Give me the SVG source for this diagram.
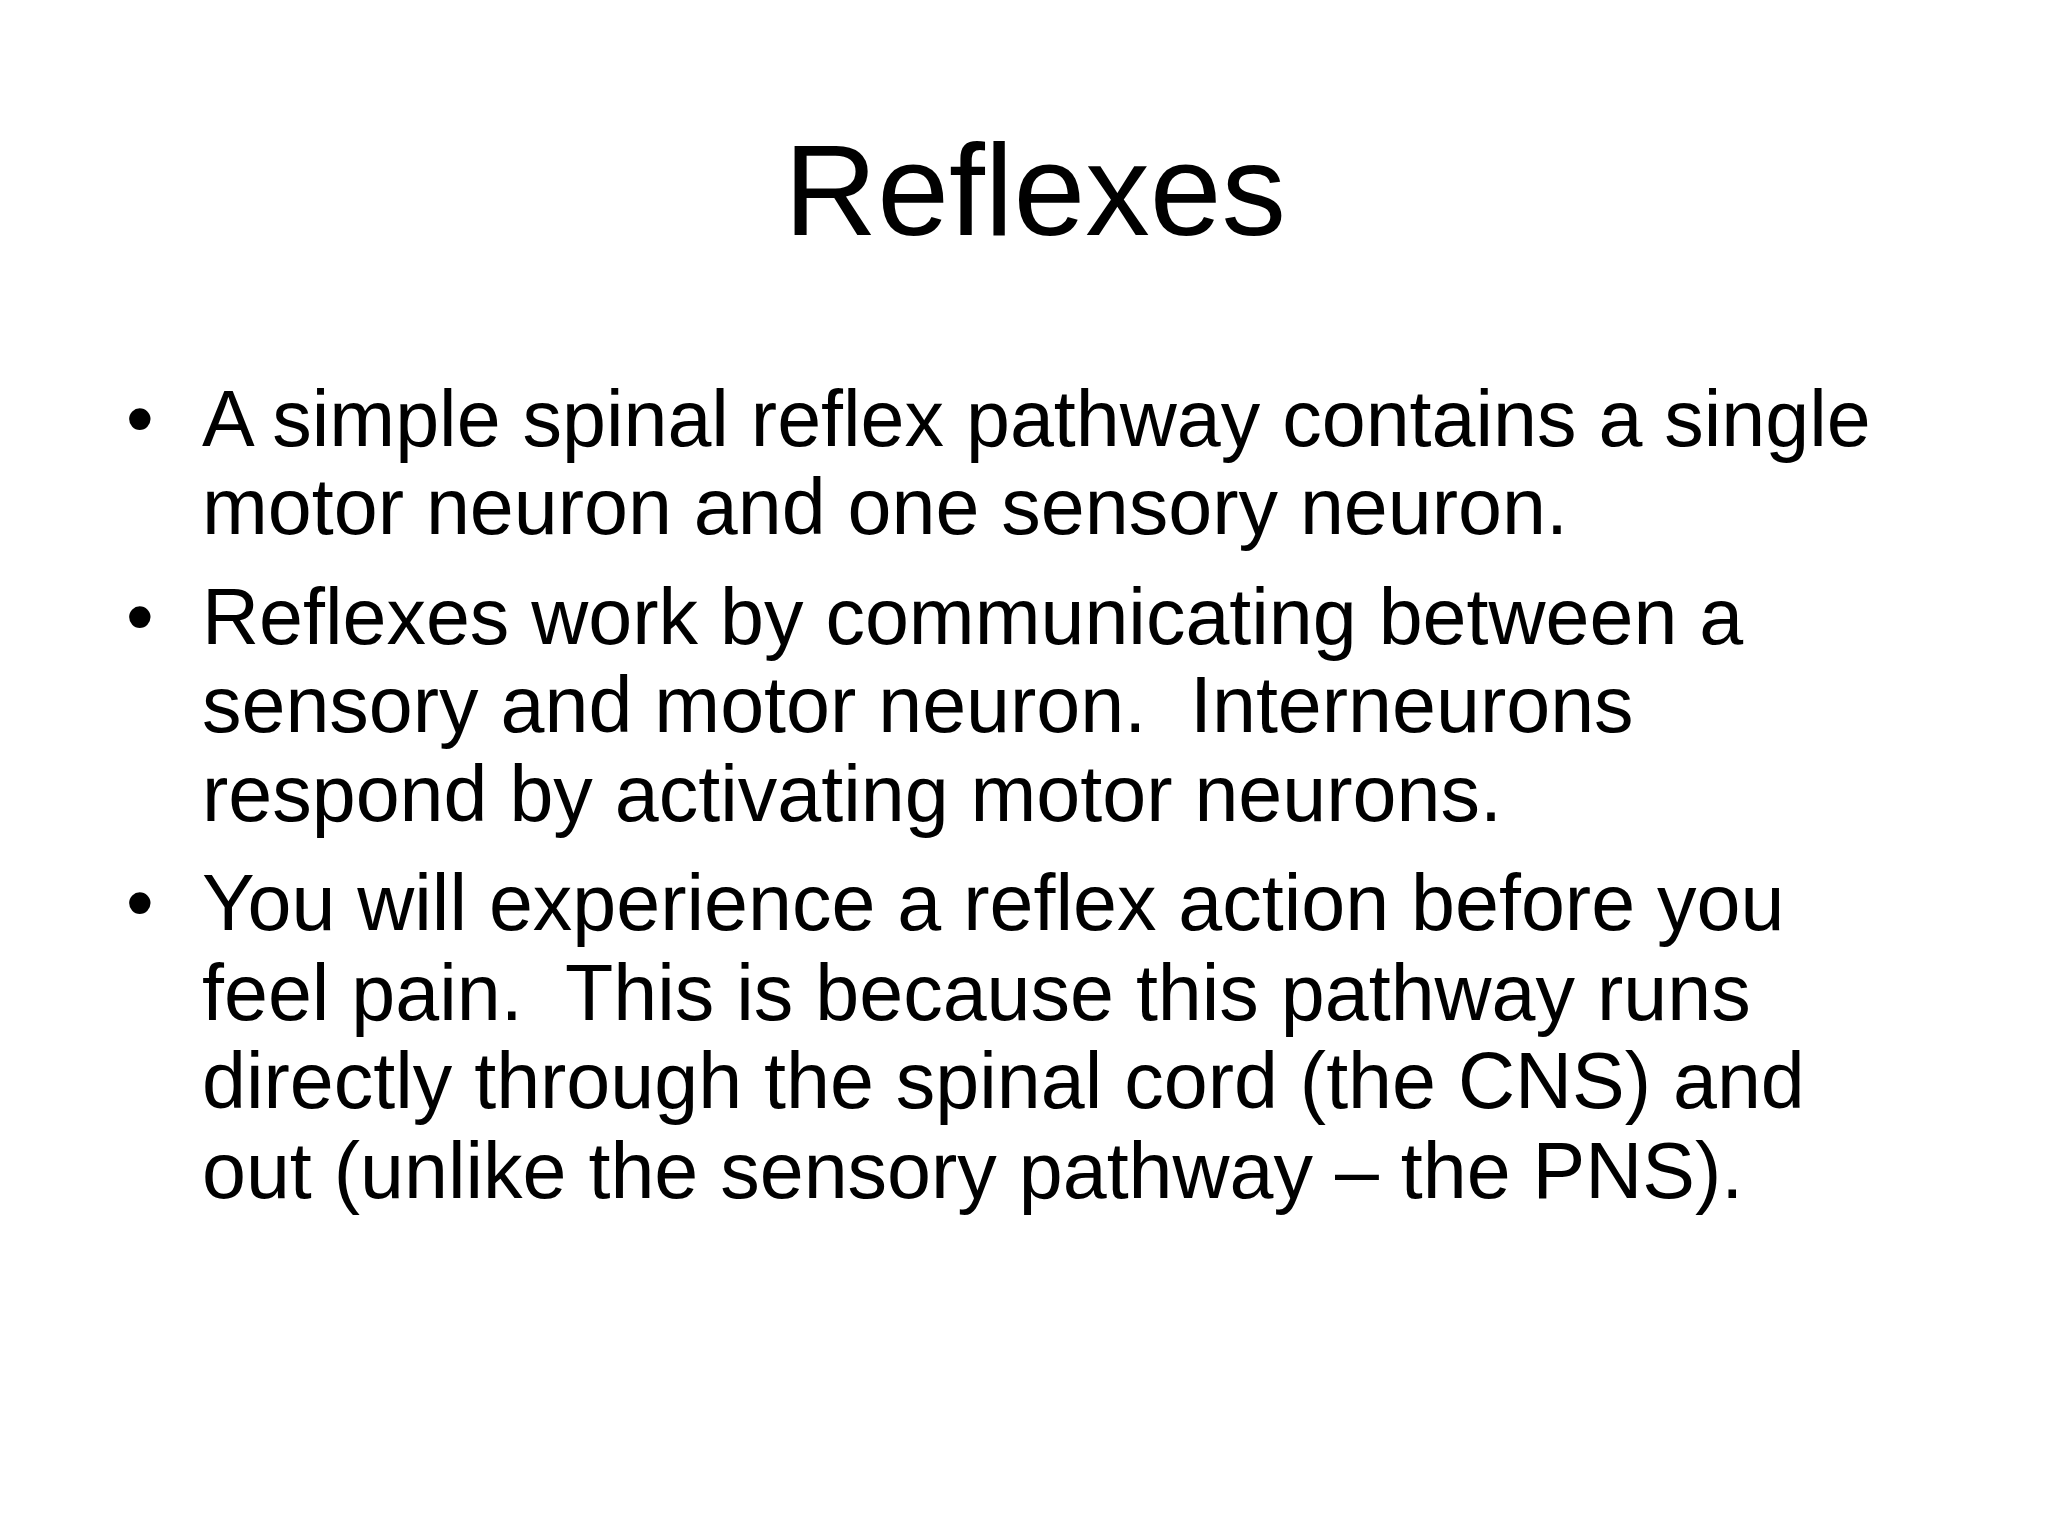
<svg xmlns="http://www.w3.org/2000/svg" width="2048" height="1536" viewBox="0 0 2048 1536">
<style>
text{font-family:"Liberation Sans",Arial,sans-serif;fill:#000}
.b{font-size:79px}
</style>
<rect width="2048" height="1536" fill="#fff"/>
<text x="1035" y="235" font-size="129" text-anchor="middle">Reflexes</text>
<g class="b">
<text x="126" y="446">•</text>
<text x="202" y="446">A simple spinal reflex pathway contains a single</text>
<text x="202" y="534">motor neuron and one sensory neuron.</text>
<text x="126" y="644">•</text>
<text x="202" y="644">Reflexes work by communicating between a</text>
<text x="202" y="732" xml:space="preserve">sensory and motor neuron.  Interneurons</text>
<text x="202" y="821">respond by activating motor neurons.</text>
<text x="126" y="930">•</text>
<text x="202" y="930">You will experience a reflex action before you</text>
<text x="202" y="1020" xml:space="preserve">feel pain.  This is because this pathway runs</text>
<text x="202" y="1108">directly through the spinal cord (the CNS) and</text>
<text x="202" y="1198">out (unlike the sensory pathway – the PNS).</text>
</g>
</svg>
